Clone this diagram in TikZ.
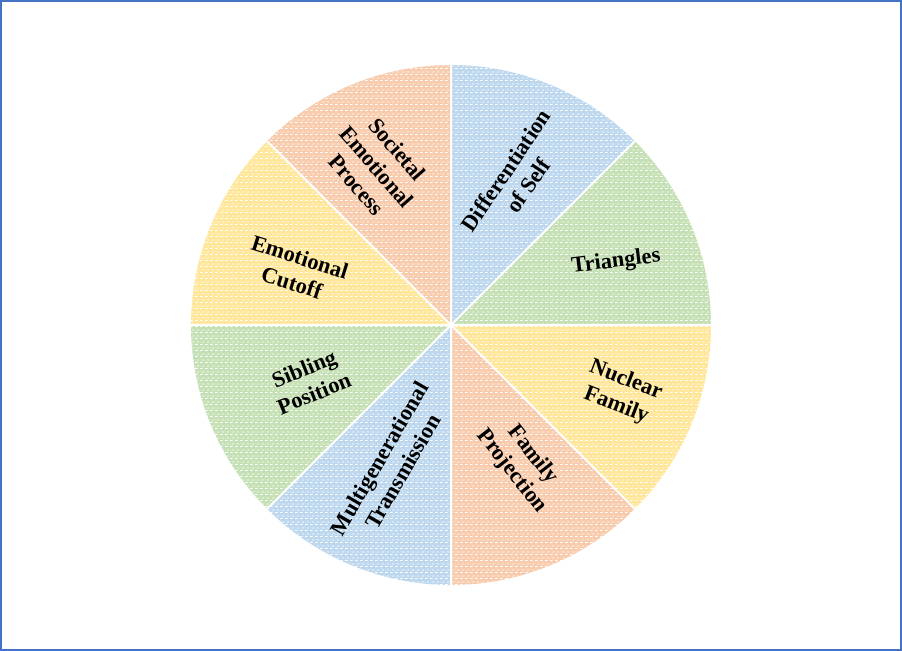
\documentclass[tikz,border=0pt]{standalone}
\usepackage{fontspec}
\setmainfont{Liberation Serif}
\usetikzlibrary{patterns.meta}
\definecolor{sblue}{HTML}{BDD7EE}
\definecolor{sgreen}{HTML}{C5E0B4}
\definecolor{syellow}{HTML}{FFE699}
\definecolor{sorange}{HTML}{F8CBAD}
\definecolor{frameblue}{HTML}{4472C4}
\tikzdeclarepattern{
  name=dashgrid,
  type=uncolored,
  bounding box={(0bp,0bp) and (5bp,6bp)},
  tile size={(5bp,6bp)},
  code={
    \fill (0bp,0bp) rectangle (3bp,1bp);
    \fill (2.5bp,3bp) rectangle (5bp,4bp);
    \fill (0bp,3bp) rectangle (0.5bp,4bp);
  }
}
\tikzset{
  lbl/.style={font=\fontsize{22.5}{27}\selectfont\bfseries, align=center, text=black, inner sep=0pt},
  patt/.style={pattern={dashgrid}, pattern color=white},
  sep/.style={draw=white, line width=2bp}
}
\newcommand{\myslice}[3]{%
  \fill[#3] (c) -- ++(#1:260bp) arc[start angle=#1, end angle=#2, radius=260bp] -- cycle;
  \path[patt] (c) -- ++(#1:260bp) arc[start angle=#1, end angle=#2, radius=260bp] -- cycle;
}
\begin{document}
\begin{tikzpicture}[x=1bp,y=1bp]
\useasboundingbox (0,0) rectangle (902,651);
\fill[white] (0,0) rectangle (902,651);
\draw[frameblue, line width=2.2bp] (1.1,1.1) rectangle (900.9,649.9);
\coordinate (c) at (451,326);
\myslice{90}{45}{sblue}
\myslice{45}{0}{sgreen}
\myslice{0}{-45}{syellow}
\myslice{-45}{-90}{sorange}
\myslice{-90}{-135}{sblue}
\myslice{-135}{-180}{sgreen}
\myslice{180}{135}{syellow}
\myslice{135}{90}{sorange}
\foreach \a in {0,45,...,315} { \draw[sep] (c) -- ++(\a:260bp); }
\node[lbl, rotate=56] (diff) at (517,473) {Differentiation\\of Self};
\node[lbl, rotate=7] (tri) at (616,389) {Triangles};
\node[lbl, rotate=-21] (nuc) at (621,258) {Nuclear\\Family};
\node[lbl, rotate=-52] (proj) at (522,188) {Family\\Projection};
\node[lbl, rotate=60] (multi) at (391,186) {Multigenerational\\Transmission};
\node[lbl, rotate=22] (sib) at (309,270) {Sibling\\Position};
\node[lbl, rotate=-17.5] (cut) at (296,381) {Emotional\\Cutoff};
\node[lbl, rotate=-49] (soc) at (377,484) {Societal\\Emotional\\Process};
\end{tikzpicture}
\end{document}
